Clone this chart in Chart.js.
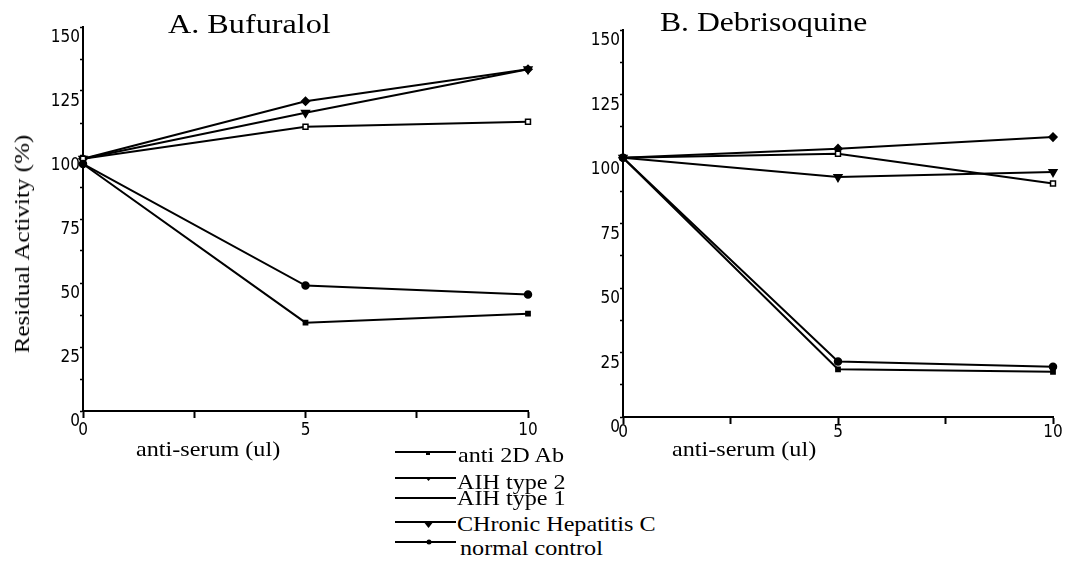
<!DOCTYPE html>
<html>
<head>
<meta charset="utf-8">
<script src="https://cdn.jsdelivr.net/npm/chart.js@4.4.0/dist/chart.umd.min.js"></script>
<style>
body{margin:0;background:#fff;width:1075px;height:571px;position:relative;overflow:hidden;font-family:"Liberation Serif","Times New Roman",serif;color:#000}
canvas{position:absolute;top:0}
.t{position:absolute;white-space:nowrap;line-height:1;transform-origin:0 0;transform:scaleX(1.15)}
svg.ln{position:absolute;left:393px}
</style>
</head>
<body>
<canvas id="chartA" width="560" height="460" style="left:0"></canvas>
<canvas id="chartB" width="515" height="460" style="left:560px"></canvas>

<div class="t" style="left:168px;top:10px;font-size:28px">A. Bufuralol</div>
<div class="t" style="left:660px;top:8px;font-size:28px;transform:scaleX(1.13)">B. Debrisoquine</div>
<div class="t" style="left:136px;top:439px;font-size:21px">anti-serum (ul)</div>
<div class="t" style="left:672px;top:439px;font-size:21px">anti-serum (ul)</div>
<div class="t" style="left:22px;top:244px;font-size:22px;transform-origin:50% 50%;transform:translate(-50%,-50%) rotate(-90deg) scaleX(1.14)">Residual Activity (%)</div>

<div id="legend"></div>

<script>
// anti-serum volume (ul)
const doses = [0, 5, 10];
const seriesNames = ['anti 2D Ab', 'AIH type 2', 'AIH type 1', 'CHronic Hepatitis C', 'normal control'];

// A. Bufuralol, residual activity (%)
const bufAnti2D = [96.5, 34.5, 38];
const bufAIH2 = [96.5, 49, 45.5];
const bufAIH1 = [98.5, 111, 113];
const bufHCV = [98.5, 116.5, 133.5];
const bufNormal = [98.5, 121, 133.5];

// B. Debrisoquine, residual activity (%)
const debAnti2D = [100.5, 18.5, 17.5];
const debAIH2 = [100.5, 21.5, 19.5];
const debAIH1 = [100.5, 102, 90.5];
const debHCV = [100.5, 93, 95];
const debNormal = [100.5, 104, 108.5];

const yTickLabels = [0, 25, 50, 75, 100, 125, 150];
const xTickLabels = [0, 5, 10];

// marker look for each series, same order as seriesNames
const markers = [
  {pointStyle: 'rect', radius: 3, fill: '#000', rot: 0},
  {pointStyle: 'circle', radius: 3.5, fill: '#000', rot: 0},
  {pointStyle: 'rect', radius: 3.5, fill: '#fff', rot: 0},
  {pointStyle: 'triangle', radius: 4.5, fill: '#000', rot: 180},
  {pointStyle: 'rectRot', radius: 4, fill: '#000', rot: 0}
];

function makeDatasets(rows) {
  return rows.map((vals, i) => ({
    label: seriesNames[i],
    data: vals.map((v, j) => ({x: doses[j], y: v})),
    showLine: true,
    borderColor: '#000',
    borderWidth: 2,
    pointStyle: markers[i].pointStyle,
    pointRadius: markers[i].radius,
    pointRotation: markers[i].rot,
    pointBackgroundColor: markers[i].fill,
    pointBorderColor: '#000',
    pointBorderWidth: 1.5,
    clip: false
  }));
}

const tickFont = {family: '"DejaVu Sans Condensed", "DejaVu Sans", sans-serif', size: 17};

function makeChart(id, rows, axisW, axisH, padTop, padRight, xPad) {
  return new Chart(document.getElementById(id), {
    type: 'scatter',
    data: {datasets: makeDatasets(rows)},
    options: {
      responsive: false,
      animation: false,
      layout: {padding: {left: 0, top: padTop, right: padRight, bottom: 0}},
      plugins: {legend: {display: false}, tooltip: {enabled: false}},
      scales: {
        x: {
          type: 'linear', min: 0, max: 10,
          afterFit: s => { s.height = axisH; },
          grid: {drawOnChartArea: false, color: '#000', tickLength: 7, tickWidth: 2},
          border: {display: true, color: '#000', width: 2},
          ticks: {
            stepSize: 2.5, color: '#000', font: tickFont, padding: xPad, maxRotation: 0,
            callback: v => xTickLabels.includes(v) ? String(v) : ''
          }
        },
        y: {
          min: 0, max: 150,
          afterFit: s => { s.width = axisW; },
          grid: {drawOnChartArea: false, color: '#000', tickLength: 3, tickWidth: 1.5},
          border: {display: true, color: '#000', width: 2},
          ticks: {
            stepSize: 12.5, color: '#000', font: tickFont, padding: 0, labelOffset: 11,
            callback: v => yTickLabels.includes(v) ? String(v) : ''
          }
        }
      }
    }
  });
}

// chart areas: A x 83..528, y 27..411 ; B x 623..1053, y 30..417
const chartA = makeChart('chartA', [bufAnti2D, bufAIH2, bufAIH1, bufHCV, bufNormal], 83, 49, 27, 32, 2);
const chartB = makeChart('chartB', [debAnti2D, debAIH2, debAIH1, debHCV, debNormal], 63, 43, 30, 22, -2);

// legend: sample line + marker drawn in svg, label as html text
const legendLineY = [452, 478, 498, 522, 542];
const legendTextTop = [445, 472, 488, 514, 538];
const legendTextX = [458, 457, 457, 457, 460];
const legend = document.getElementById('legend');
seriesNames.forEach((name, i) => {
  const y = legendLineY[i];
  let mark = '';
  if (i === 0) mark = '<rect x="33" y="7" width="4" height="4" fill="#000"/>';
  if (i === 1) mark = '<polygon points="32,7 39,7 35.5,11" fill="#000"/>';
  if (i === 3) mark = '<polygon points="30,7 41,7 35.5,14" fill="#000"/>';
  if (i === 4) mark = '<circle cx="36" cy="8" r="2.5" fill="#000"/>';
  const svg = document.createElementNS('http://www.w3.org/2000/svg', 'svg');
  svg.setAttribute('class', 'ln');
  svg.setAttribute('width', '64');
  svg.setAttribute('height', '16');
  svg.style.top = (y - 8) + 'px';
  svg.innerHTML = '<line x1="2" y1="8" x2="63" y2="8" stroke="#000" stroke-width="2"/>' + mark;
  legend.appendChild(svg);
  const txt = document.createElement('div');
  txt.className = 't';
  txt.style.left = legendTextX[i] + 'px';
  txt.style.top = legendTextTop[i] + 'px';
  txt.style.fontSize = '21px';
  txt.textContent = name;
  legend.appendChild(txt);
});
</script>
</body>
</html>
